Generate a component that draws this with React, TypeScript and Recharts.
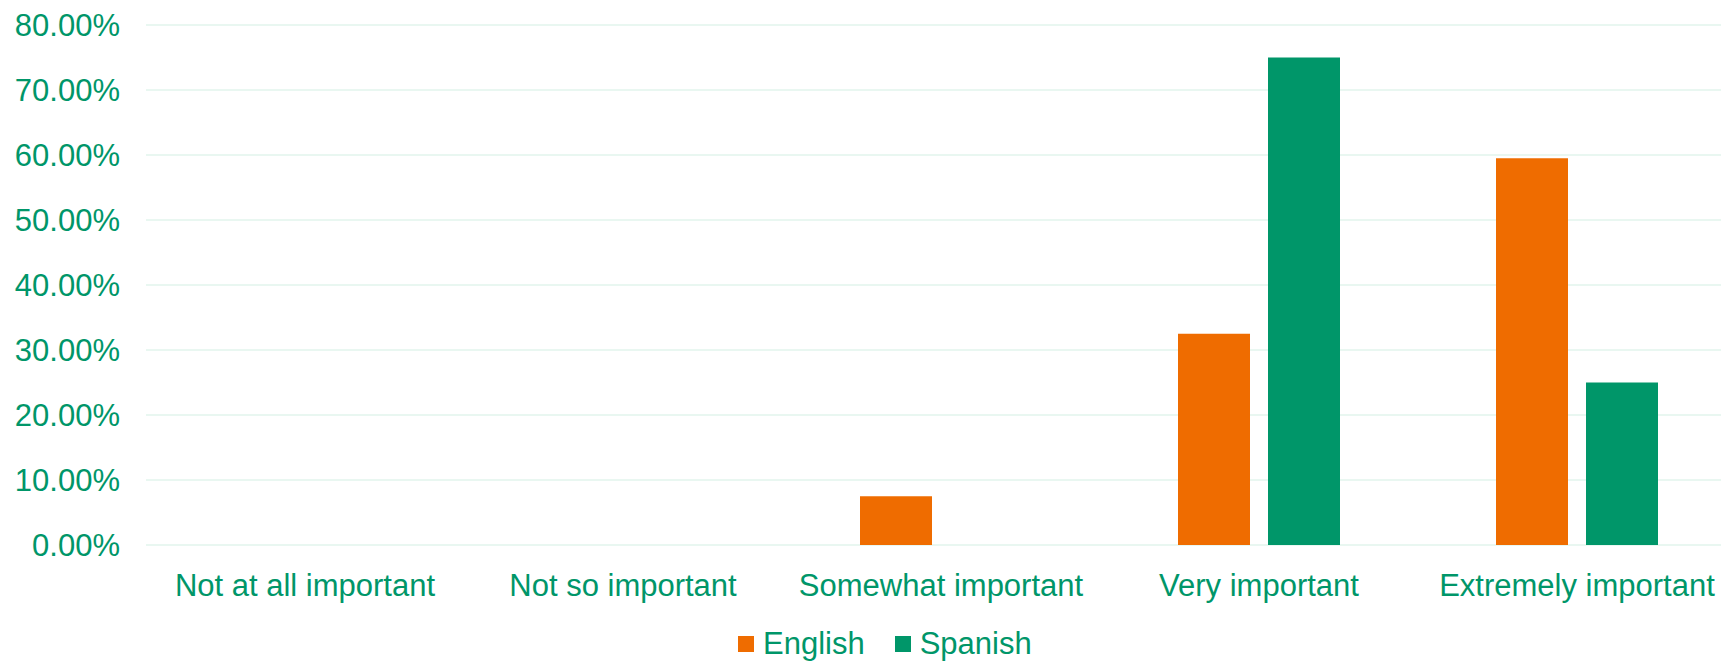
import { Bar, BarChart, CartesianGrid, Legend, XAxis, YAxis } from "recharts";

const categories = [
  "Not at all important",
  "Not so important",
  "Somewhat important",
  "Very important",
  "Extremely important",
];
const english = [0, 0, 0.075, 0.325, 0.595];
const spanish = [0, 0, 0, 0.75, 0.25];
const yTicks = [0, 0.1, 0.2, 0.3, 0.4, 0.5, 0.6, 0.7, 0.8];

const ORANGE = "#ef6c00";
const GREEN = "#009669";
const TEXT = "#009669";
const FONT = "'Liberation Sans', Arial, sans-serif";

const data = categories.map((name, i) => ({
  name,
  English: english[i],
  Spanish: spanish[i],
}));

const seriesLegend = [
  { label: "English", color: ORANGE },
  { label: "Spanish", color: GREEN },
];

function LegendContent() {
  return (
    <div
      style={{
        display: "flex",
        alignItems: "center",
        height: 40,
        paddingTop: 6,
        boxSizing: "border-box",
        paddingLeft: 738,
        fontFamily: FONT,
        fontSize: 31,
        color: TEXT,
      }}
    >
      {seriesLegend.map((s, i) => (
        <span
          key={s.label}
          style={{ display: "flex", alignItems: "center", marginRight: i === 0 ? 30 : 0 }}
        >
          <span
            style={{ width: 16, height: 16, background: s.color, marginRight: 9, display: "inline-block" }}
          />
          {s.label}
        </span>
      ))}
    </div>
  );
}

export default function App() {
  return (
    <div
      style={{
        position: "absolute",
        left: 0,
        top: 0,
        width: 1721,
        height: 661,
        overflow: "hidden",
        background: "#fff",
      }}
    >
      <BarChart
        width={1736}
        height={661}
        data={data}
        margin={{ top: 25, right: 0, bottom: 0, left: 0 }}
        barCategoryGap={78}
        barGap={18}
      >
        <CartesianGrid vertical={false} stroke="#e9f7f1" strokeWidth={2} />
        <XAxis
          dataKey="name"
          axisLine={false}
          tickLine={false}
          height={76}
          tickMargin={23}
          interval={0}
          tick={{ fill: TEXT, fontSize: 31, fontFamily: FONT }}
        />
        <YAxis
          domain={[0, 0.8]}
          ticks={yTicks}
          width={146}
          axisLine={false}
          tickLine={false}
          tickMargin={20}
          tickFormatter={(v: number) => `${(v * 100).toFixed(2)}%`}
          tick={{ fill: TEXT, fontSize: 31, fontFamily: FONT }}
        />
        <Legend verticalAlign="bottom" content={LegendContent} />
        <Bar dataKey="English" fill={ORANGE} isAnimationActive={false} />
        <Bar dataKey="Spanish" fill={GREEN} isAnimationActive={false} />
      </BarChart>
    </div>
  );
}
